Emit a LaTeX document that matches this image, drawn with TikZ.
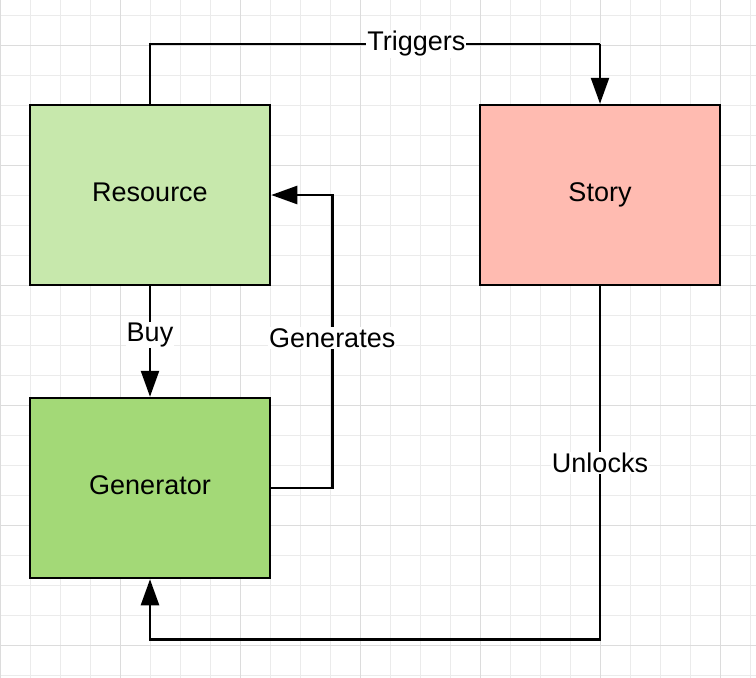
\documentclass[tikz,border=0pt]{standalone}
\usepackage{fontspec}
\setmainfont{Liberation Sans}
\usetikzlibrary{arrows.meta, positioning}
\definecolor{resgreen}{HTML}{C7E8AC}
\definecolor{gengreen}{HTML}{A3D977}
\definecolor{storyred}{HTML}{FFBBB1}
\definecolor{gridminor}{HTML}{EBEBEB}
\definecolor{gridmajor}{HTML}{DCDCDC}

\begin{document}
\begin{tikzpicture}[x=1pt, y=-1pt,
        block/.style={draw, line width=2.5pt, minimum width=240pt, minimum height=180pt, text depth=5pt, font=\fontsize{27}{30}\selectfont},
        flow/.style={line width=2.5pt, -{Triangle[length=26pt, width=18pt]}},
        lbl/.style={fill=white, inner sep=1pt, font=\fontsize{27}{30}\selectfont}]
        \useasboundingbox (0,0) rectangle (756,678);

        \foreach \x in {0,30,...,750} \draw[gridminor, line width=1pt] (\x,0) -- (\x,678);
        \foreach \y in {15,45,...,675} \draw[gridminor, line width=1pt] (0,\y) -- (756,\y);
        \foreach \x in {0,120,...,720} \draw[gridmajor, line width=1pt] (\x,0) -- (\x,678);
        \foreach \y in {45,165,...,645} \draw[gridmajor, line width=1pt] (0,\y) -- (756,\y);

        \node[block, fill=resgreen] (Resource) at (150,195) {Resource};
        \node[block, fill=storyred] (Story) at (600,195) {Story};
        \node[block, fill=gengreen] (Generator) at (150,488) {Generator};

        \coordinate (trig) at (600,44);

        \draw[line width=2.5pt] (Resource.north) |- node[lbl, pos=0.796] {Triggers} (trig);
        \draw[flow] (trig) -- (Story.north);
        \draw[flow] (Resource.south) -- node[lbl, pos=0.44] {Buy} (Generator.north);
        \draw[flow] (Generator.east) -- ++(61,0) |- node[lbl, pos=0.256] {Generates} (Resource.east);
        \draw[flow] (Story.south) -- ++(0,353) node[lbl, pos=0.5] {Unlocks} -| (Generator.south);
    \end{tikzpicture}
\end{document}
